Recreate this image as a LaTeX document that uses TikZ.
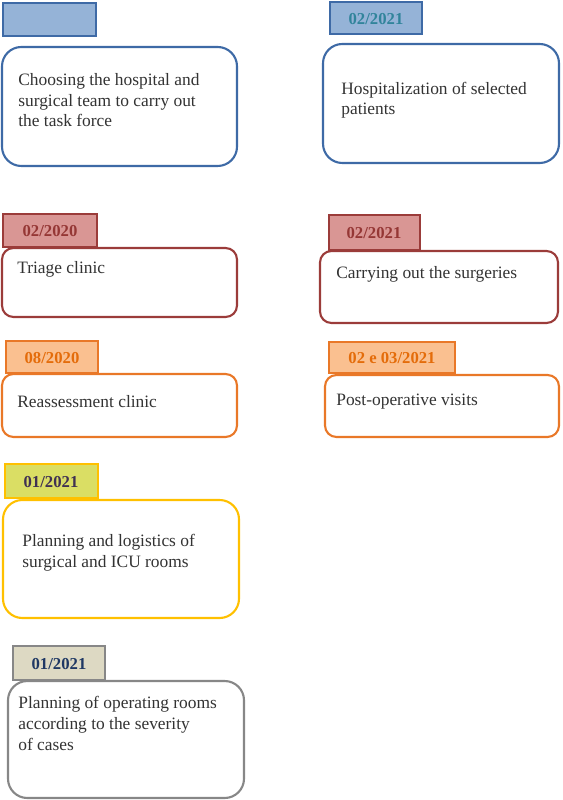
\documentclass[tikz,border=0pt]{standalone}
\usepackage{fontspec}
\setmainfont{Liberation Serif}
\usepackage{xcolor}
\definecolor{blueline}{RGB}{62,106,166}
\definecolor{bluefill}{RGB}{149,179,215}
\definecolor{bluedate}{RGB}{49,132,155}
\definecolor{redline}{RGB}{155,60,58}
\definecolor{redfill}{RGB}{217,150,148}
\definecolor{reddate}{RGB}{149,55,53}
\definecolor{orangeline}{RGB}{233,120,40}
\definecolor{orangefill}{RGB}{250,192,144}
\definecolor{orangedate}{RGB}{228,108,10}
\definecolor{yellowline}{RGB}{255,192,0}
\definecolor{yellowfill}{RGB}{218,222,100}
\definecolor{yellowdate}{RGB}{64,49,82}
\definecolor{grayline}{RGB}{135,135,135}
\definecolor{grayfill}{RGB}{221,217,195}
\definecolor{graydate}{RGB}{31,56,100}

\tikzset{
  tagbox/.style={line width=1.1pt},
  card/.style={line width=1.2pt, fill=white, rounded corners=11pt},
  smallcard/.style={card, rounded corners=6.5pt},
  % base west of a multi-line node = baseline of its last line
  cardtext/.style={anchor=base west, align=left, inner sep=0pt,
    text=black!80, font=\fontsize{9.9}{11.7}\selectfont},
  datetext/.style={inner sep=0pt, font=\fontsize{9.5}{11}\selectfont\bfseries}
}

\begin{document}
\begin{tikzpicture}[x=0.02cm, y=-0.02cm]
		\useasboundingbox (0,0) rectangle (562,800);

		% Left column
		\draw[tagbox, draw=blueline, fill=bluefill] (3,3) rectangle (96,36);
		\draw[card, draw=blueline] (2,47) rectangle (237,166);
		\node[cardtext] (taskforce) at (18,127) {Choosing the hospital and\\surgical team to carry out\\the task force};

		\draw[tagbox, draw=redline, fill=redfill] (3,214) rectangle (97,247);
		\node[datetext, text=reddate] (dtriage) at (50,231) {02/2020};
		\draw[smallcard, draw=redline] (2,248) rectangle (237,317);
		\node[cardtext] (triage) at (17,274) {Triage clinic};

		\draw[tagbox, draw=orangeline, fill=orangefill] (6,341) rectangle (98,373);
		\node[datetext, text=orangedate] (dreassess) at (52,358) {08/2020};
		\draw[smallcard, draw=orangeline] (2,374) rectangle (237,437);
		\node[cardtext] (reassess) at (17,407) {Reassessment clinic};

		\draw[tagbox, draw=yellowline, fill=yellowfill] (5,464) rectangle (98,498);
		\node[datetext, text=yellowdate] (dlogistics) at (51,482) {01/2021};
		\draw[card, draw=yellowline] (3,500) rectangle (239,618);
		\node[cardtext] (logistics) at (22,567) {Planning and logistics of\\surgical and ICU rooms};

		\draw[tagbox, draw=grayline, fill=grayfill] (13,646) rectangle (105,680);
		\node[datetext, text=graydate] (drooms) at (59,664) {01/2021};
		\draw[card, draw=grayline] (8,681) rectangle (244,798);
		\node[cardtext] (rooms) at (18,750) {Planning of operating rooms\\according to the severity\\of cases};

		% Right column
		\draw[tagbox, draw=blueline, fill=bluefill] (330,2) rectangle (422,34);
		\node[datetext, text=bluedate] (dhospital) at (376,19) {02/2021};
		\draw[card, draw=blueline] (323,44) rectangle (559,163);
		\node[cardtext] (hospital) at (341,115) {Hospitalization of selected\\patients};

		\draw[tagbox, draw=redline, fill=redfill] (329,215) rectangle (420,250);
		\node[datetext, text=reddate] (dsurgery) at (374,233) {02/2021};
		\draw[smallcard, draw=redline] (320,251) rectangle (558,323);
		\node[cardtext] (surgery) at (336,278) {Carrying out the surgeries};

		\draw[tagbox, draw=orangeline, fill=orangefill] (329,342) rectangle (455,373);
		\node[datetext, text=orangedate] (dvisits) at (392,358) {02 e 03/2021};
		\draw[smallcard, draw=orangeline] (325,375) rectangle (559,437);
		\node[cardtext] (visits) at (336,405) {Post-operative visits};
	\end{tikzpicture}
\end{document}
